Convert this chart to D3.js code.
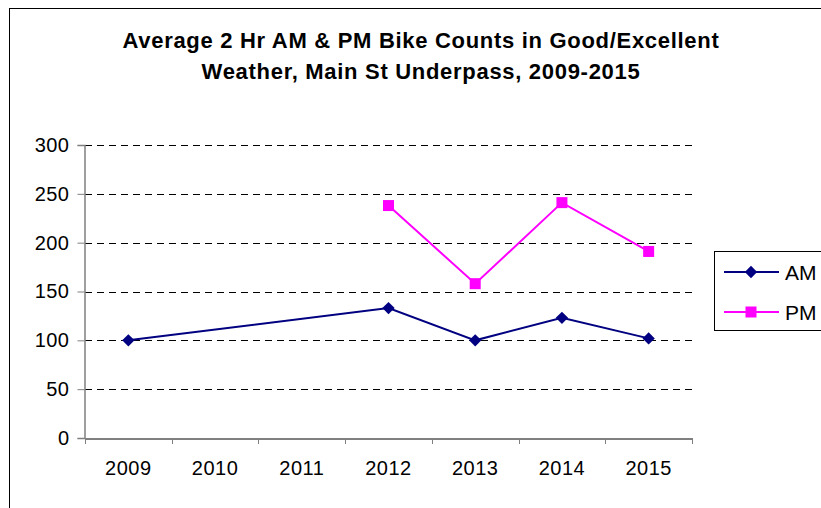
<!DOCTYPE html>
<html>
<head>
<meta charset="utf-8">
<script src="https://cdn.jsdelivr.net/npm/d3@7"></script>
<style>
  html, body { margin: 0; padding: 0; background: #fff; }
  svg { display: block; font-family: "Liberation Sans", Arial, sans-serif; }
</style>
</head>
<body>
<svg id="chart" width="821" height="508"></svg>
<script>
const years = ["2009", "2010", "2011", "2012", "2013", "2014", "2015"];
const amValues = [100, null, null, 133, 100, 123, 102];
const pmValues = [null, null, null, 238, 158, 241, 191];
const yTicks = [0, 50, 100, 150, 200, 250, 300];
const titleLines = ["Average 2 Hr AM & PM Bike Counts in Good/Excellent", "Weather, Main St Underpass, 2009-2015"];
const seriesNames = ["AM", "PM"];

const svg = d3.select("#chart");

// outer frame
svg.append("rect").attr("x", 9.5).attr("y", 8.5).attr("width", 900).attr("height", 600)
  .attr("fill", "#fff").attr("stroke", "#000").attr("stroke-width", 1);

// title
const title = svg.append("text").attr("text-anchor", "middle")
  .attr("font-weight", "bold").attr("font-size", "22px").attr("letter-spacing", "0.7px").attr("fill", "#000");
titleLines.forEach((t, i) => {
  title.append("tspan").attr("x", 421).attr("y", 48 + i * 31).text(t);
});

const plot = { left: 85, right: 692, top: 145, bottom: 438 };
const x = d3.scaleBand().domain(years).range([plot.left, plot.right]).padding(0);
const y = d3.scaleLinear().domain([0, 300]).range([plot.bottom, plot.top]);

// gridlines
svg.append("g").selectAll("line").data(yTicks.filter(d => d > 0)).join("line")
  .attr("x1", plot.left).attr("x2", plot.right)
  .attr("y1", d => Math.round(y(d)) + 0.5).attr("y2", d => Math.round(y(d)) + 0.5)
  .attr("stroke", "#000").attr("stroke-width", 1).attr("stroke-dasharray", "7,5");

// y axis
const yAxis = svg.append("g").attr("transform", `translate(${plot.left - 0.5},0)`)
  .call(d3.axisLeft(y).tickValues(yTicks).tickSize(7).tickPadding(8).tickFormat(d3.format("d")));
yAxis.select(".domain").attr("stroke", "#808080").attr("stroke-width", 1.5);
yAxis.selectAll(".tick line").attr("stroke", "#808080");
yAxis.selectAll(".tick text").attr("font-size", "20px").attr("letter-spacing", "0.5px").attr("fill", "#000")
  .attr("font-family", "'Liberation Sans', Arial, sans-serif");

// x axis
const xAxis = svg.append("g").attr("transform", `translate(0,${plot.bottom + 0.5})`)
  .call(d3.axisBottom(x).tickSize(0).tickPadding(22));
xAxis.select(".domain").attr("stroke", "#000").attr("stroke-width", 1);
xAxis.selectAll(".tick text").attr("font-size", "20px").attr("letter-spacing", "0.5px").attr("fill", "#000")
  .attr("font-family", "'Liberation Sans', Arial, sans-serif");
// boundary ticks
const bounds = years.map(d => x(d)).concat([x(years[years.length - 1]) + x.bandwidth()]);
svg.append("g").selectAll("line").data(bounds).join("line")
  .attr("x1", d => Math.round(d) + 0.5).attr("x2", d => Math.round(d) + 0.5)
  .attr("y1", plot.bottom).attr("y2", plot.bottom + 6)
  .attr("stroke", "#808080").attr("stroke-width", 1);

const cx = d => x(d) + x.bandwidth() / 2;

function marker(sel, kind, color) {
  if (kind === "diamond") {
    sel.attr("d", d3.symbol().type(d3.symbolSquare).size(76)())
      .attr("transform", function () { return d3.select(this).attr("transform") + " rotate(45)"; });
  } else {
    sel.attr("d", d3.symbol().type(d3.symbolSquare).size(121)());
  }
  sel.attr("fill", color);
}

function drawSeries(values, color, kind) {
  const pts = years.map((yr, i) => ({ yr, v: values[i] })).filter(d => d.v != null);
  const line = d3.line().x(d => cx(d.yr)).y(d => y(d.v));
  svg.append("path").datum(pts).attr("d", line)
    .attr("fill", "none").attr("stroke", color).attr("stroke-width", 2);
  const m = svg.append("g").selectAll("path").data(pts).join("path")
    .attr("transform", d => `translate(${cx(d.yr)},${y(d.v)})`);
  marker(m, kind, color);
}
drawSeries(amValues, "#000080", "diamond");
drawSeries(pmValues, "#FF00FF", "square");

// legend
const lg = svg.append("g");
lg.append("rect").attr("x", 714.5).attr("y", 251.5).attr("width", 150).attr("height", 79)
  .attr("fill", "#fff").attr("stroke", "#000").attr("stroke-width", 1);
const legendItems = [
  { name: seriesNames[0], color: "#000080", kind: "diamond" },
  { name: seriesNames[1], color: "#FF00FF", kind: "square" }
];
legendItems.forEach((it, i) => {
  const ly = 272 + i * 40;
  lg.append("line").attr("x1", 724).attr("x2", 779).attr("y1", ly).attr("y2", ly)
    .attr("stroke", it.color).attr("stroke-width", 2);
  const m = lg.append("path").attr("transform", `translate(751,${ly})`);
  marker(m, it.kind, it.color);
  lg.append("text").attr("x", 785).attr("y", ly).attr("dy", "0.36em")
    .attr("font-size", "21px").attr("fill", "#000").text(it.name);
});
</script>
</body>
</html>
